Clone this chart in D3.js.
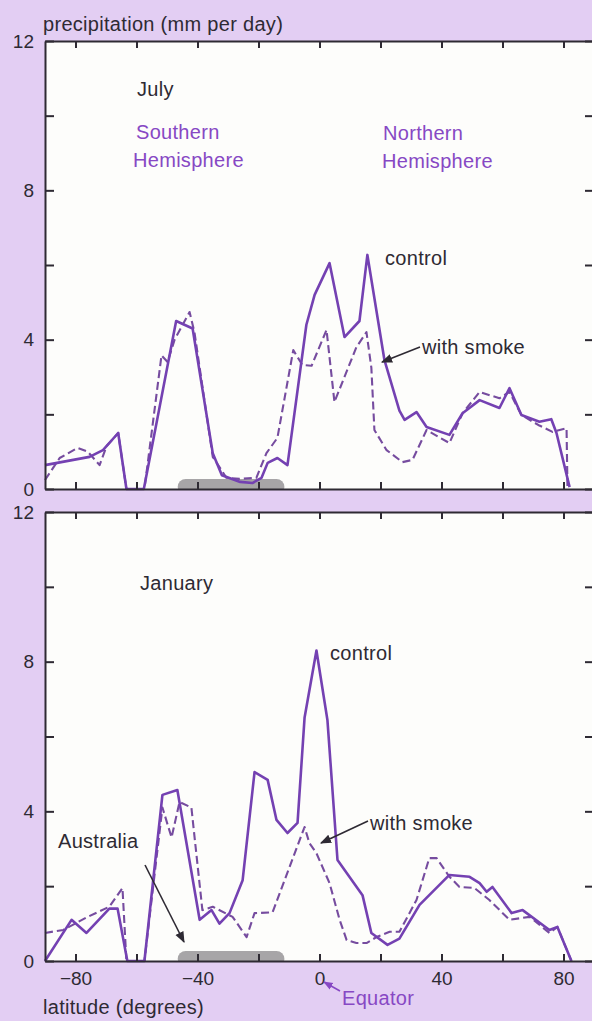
<!DOCTYPE html>
<html>
<head>
<meta charset="utf-8">
<script src="https://cdn.jsdelivr.net/npm/d3@7"></script>
<style>
  html, body { margin: 0; padding: 0; background: #e3cef3; }
  svg { display: block; font-family: "Liberation Sans", Arial, sans-serif; }
</style>
</head>
<body>
<div id="chart"></div>
<script>
// July, control run
const julyControlLat = [-90, -75.4, -71, -66, -63.3, -57.6, -47, -44.3, -41.6, -35, -32, -26, -22, -19, -17, -13.8, -10.5, -4.3, -1.6, 3.3, 8.2, 13.1, 15.7, 21.3, 26.2, 27.9, 31.8, 35.1, 42.6, 46.9, 52.5, 59, 62.3, 66.2, 72.1, 76, 77.7, 82]
const julyControl = [0.64, 0.86, 1.04, 1.5, 0, 0, 4.5, 4.4, 4.3, 0.96, 0.37, 0.19, 0.16, 0.3, 0.7, 0.83, 0.64, 4.4, 5.2, 6.05, 4.07, 4.5, 6.27, 3.45, 2.1, 1.85, 2.06, 1.66, 1.45, 2.03, 2.38, 2.17, 2.7, 1.98, 1.8, 1.87, 1.5, 0.05]

// July, with smoke
const julySmokeLat = [-90, -85.2, -79.3, -76, -72.1, -69.8, -66, -63.3, -57.4, -51.8, -49.8, -47.5, -42.6, -41, -35, -30.5, -26.2, -20.7, -17.4, -13.8, -8.6, -5.6, -2.6, 2.3, 4.9, 12.1, 15.4, 17, 18, 22, 27.2, 30.5, 35.1, 42.6, 46.9, 52.5, 59, 62.3, 66.2, 72.1, 76.4, 81, 81.3]
const julySmoke = [0.24, 0.83, 1.1, 1.0, 0.64, 1.15, 1.5, 0, 0, 3.58, 3.4, 4.0, 4.74, 4.2, 0.86, 0.3, 0.27, 0.3, 0.96, 1.37, 3.72, 3.32, 3.3, 4.26, 2.33, 3.8, 4.2, 3.25, 1.58, 1.04, 0.72, 0.78, 1.58, 1.23, 2.03, 2.6, 2.43, 2.6, 1.98, 1.7, 1.53, 1.63, 0.05]

// January, control run
const janControlLat = [-90, -81.3, -76.4, -68.9, -66.2, -63, -57.4, -51.5, -46.6, -39.3, -35.4, -32.8, -29.5, -25.2, -21.3, -17, -14.1, -10.5, -7.2, -4.9, -1, 2.6, 5.9, 14.1, 17, 22.3, 26.2, 32.8, 42.6, 49.2, 52.5, 54.8, 56.7, 63, 66.6, 75.4, 78, 82.6]
const janControl = [0, 1.1, 0.75, 1.4, 1.4, 0, 0, 4.44, 4.57, 1.1, 1.36, 1.0, 1.28, 2.16, 5.05, 4.84, 3.77, 3.42, 3.69, 6.5, 8.3, 6.44, 2.7, 1.76, 0.75, 0.43, 0.6, 1.5, 2.3, 2.25, 2.08, 1.85, 1.98, 1.28, 1.36, 0.83, 0.91, 0]

// January, with smoke
const janSmokeLat = [-90, -84, -76, -68.9, -64.6, -63.3, -57.4, -51.5, -48.5, -45.9, -42, -38.4, -35, -28.5, -23.9, -21.3, -15.4, -4.9, -3.3, -1, 3.3, 6.6, 8.9, 12.1, 15.4, 18.7, 23, 26.2, 31.8, 36, 38.4, 42.6, 45.9, 50.8, 55.7, 62.3, 68.9, 75.4, 78, 82.6]
const janSmoke = [0.75, 0.83, 1.18, 1.45, 1.95, 0, 0, 4.1, 3.3, 4.25, 4.1, 1.36, 1.45, 1.18, 0.64, 1.28, 1.3, 3.58, 3.15, 2.88, 2.08, 1.1, 0.56, 0.48, 0.48, 0.64, 0.78, 0.78, 1.63, 2.75, 2.75, 2.25, 1.98, 1.95, 1.63, 1.1, 1.18, 0.75, 0.91, 0]

// latitude span of Australia (gray bar)
const australia = [-46.5, -11.5]

const xTicks = [-80, -60, -40, -20, 0, 20, 40, 60, 80]
const yTicks = [0, 2, 4, 6, 8, 10, 12]

const width = 592
const height = 1021

const purple = "#7441b2"
const textPurple = "#8748c4"
const ink = "#2e2a33"
const lavender = "#e3cef3"

const svg = d3.select("#chart").append("svg")
	.attr("width", width)
	.attr("height", height)

const defs = svg.append("defs")
defs.append("marker")
	.attr("id", "arrow")
	.attr("viewBox", "0 0 10 10")
	.attr("refX", 9).attr("refY", 5)
	.attr("markerWidth", 7).attr("markerHeight", 7)
	.attr("orient", "auto")
	.append("path")
	.attr("d", "M0,1 L10,5 L0,9 z")
	.attr("fill", ink)

defs.append("marker")
	.attr("id", "arrowP")
	.attr("viewBox", "0 0 10 10")
	.attr("refX", 9).attr("refY", 5)
	.attr("markerWidth", 6).attr("markerHeight", 6)
	.attr("orient", "auto")
	.append("path")
	.attr("d", "M0,1 L10,5 L0,9 z")
	.attr("fill", textPurple)

const x = d3.scaleLinear().domain([-90, 90]).range([45, 594])

function panel(top, bottom, control, controlLat, smoke, smokeLat, labels) {
	const y = d3.scaleLinear().domain([0, 12]).range([bottom, top])
	const g = svg.append("g")

	g.append("rect")
		.attr("x", x(-90)).attr("y", top)
		.attr("width", x(90) - x(-90)).attr("height", bottom - top)
		.attr("fill", "#fdfdfb")

	// Australia
	g.append("rect")
		.attr("x", x(australia[0])).attr("y", bottom - 10)
		.attr("width", x(australia[1]) - x(australia[0])).attr("height", 16)
		.attr("rx", 8)
		.attr("fill", "#a7a5a7")
	g.append("rect")
		.attr("x", x(-90)).attr("y", bottom)
		.attr("width", x(90) - x(-90)).attr("height", 8)
		.attr("fill", lavender)

	const line = d3.line()
		.x(d => x(d[0]))
		.y(d => y(d[1]))

	g.append("path")
		.datum(smokeLat.map((d, i) => [d, smoke[i]]))
		.attr("d", line)
		.attr("fill", "none")
		.attr("stroke", "#764c9f")
		.attr("stroke-width", 2.1)
		.attr("stroke-dasharray", "8,4")
		.attr("stroke-linejoin", "round")

	g.append("path")
		.datum(controlLat.map((d, i) => [d, control[i]]))
		.attr("d", line)
		.attr("fill", "none")
		.attr("stroke", purple)
		.attr("stroke-width", 2.6)
		.attr("stroke-linejoin", "round")

	const styleAxis = a => a
		.call(a => a.select(".domain").attr("stroke", ink).attr("stroke-width", 2))
		.call(a => a.selectAll(".tick line").attr("stroke", ink).attr("stroke-width", 2))
		.call(a => a.selectAll(".tick text").attr("fill", ink).attr("font-size", 19).attr("font-family", "Liberation Sans, Arial, sans-serif"))

	g.append("g")
		.attr("transform", `translate(0,${bottom})`)
		.call(d3.axisBottom(x).tickValues(xTicks).tickSize(-7).tickSizeOuter(0).tickPadding(11)
			.tickFormat(d => labels && d % 40 === 0 ? d3.format("d")(d) : ""))
		.call(styleAxis)

	g.append("g")
		.attr("transform", `translate(0,${top})`)
		.call(d3.axisTop(x).tickValues(xTicks).tickSize(-7).tickSizeOuter(0).tickFormat(""))
		.call(styleAxis)

	g.append("g")
		.attr("transform", `translate(${x(-90)},0)`)
		.call(d3.axisLeft(y).tickValues(yTicks).tickSize(-9).tickSizeOuter(0).tickPadding(11)
			.tickFormat(d => d % 4 === 0 ? d : ""))
		.call(styleAxis)

	g.append("g")
		.attr("transform", `translate(${x(90)},0)`)
		.call(d3.axisRight(y).tickValues(yTicks).tickSize(-9).tickSizeOuter(0).tickFormat(""))
		.call(styleAxis)

	return y
}

panel(41, 489, julyControl, julyControlLat, julySmoke, julySmokeLat, false)
panel(512, 961, janControl, janControlLat, janSmoke, janSmokeLat, true)

function label(txt, px, py, color, anchor) {
	svg.append("text")
		.attr("x", px).attr("y", py)
		.attr("fill", color || ink)
		.attr("font-size", 20)
		.attr("letter-spacing", 0.3)
		.attr("text-anchor", anchor || "start")
		.text(txt)
}

function arrow(x1, y1, x2, y2, marker, color) {
	svg.append("line")
		.attr("x1", x1).attr("y1", y1).attr("x2", x2).attr("y2", y2)
		.attr("stroke", color || ink)
		.attr("stroke-width", 1.6)
		.attr("marker-end", `url(#${marker || "arrow"})`)
}

label("precipitation (mm per day)", 43, 31)

// July annotations
label("July", 137, 96)
label("Southern", 136, 139, textPurple)
label("Hemisphere", 133, 167, textPurple)
label("Northern", 383, 140, textPurple)
label("Hemisphere", 382, 168, textPurple)
label("control", 385, 265)
label("with smoke", 422, 354)
arrow(420, 347, 382, 362)

// January annotations
label("January", 140, 590)
label("control", 330, 660)
label("with smoke", 370, 830)
arrow(368, 821, 321, 843)
label("Australia", 58, 848)
arrow(145, 865, 184, 942)

label("Equator", 342, 1005, textPurple)
arrow(340, 991, 324, 982, "arrowP", textPurple)
label("latitude (degrees)", 43, 1014)
</script>
</body>
</html>
